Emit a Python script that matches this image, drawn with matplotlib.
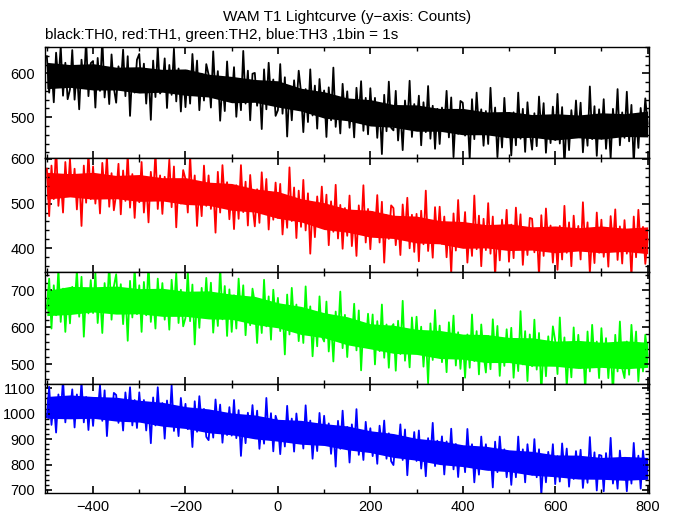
import numpy as np
import matplotlib
matplotlib.use('Agg')
import matplotlib.pyplot as plt
from matplotlib.ticker import MultipleLocator

plt.rcParams['font.family'] = ['Liberation Sans', 'DejaVu Sans']

# time bins (s), sampled every 5 s from the 1 s lightcurve
time = np.arange(-500, 801, 5)
knots = np.arange(-500, 801, 50)

th0 = [639, 556, 617, 534, 647, 579, 662, 549, 624, 541,
       563, 653, 540, 608, 518, 631, 570, 676, 548, 623,
       628, 522, 635, 560, 680, 545, 605, 530, 643, 567,
       533, 616, 571, 654, 548, 639, 503, 609, 556, 631,
       644, 561, 622, 531, 607, 494, 629, 546, 659, 554,
       566, 634, 521, 619, 551, 656, 536, 611, 513, 604,
       523, 606, 531, 644, 561, 629, 516, 599, 538, 621,
       597, 522, 650, 544, 605, 492, 582, 514, 627, 537,
       538, 614, 501, 576, 516, 651, 531, 606, 493, 599,
       601, 526, 579, 473, 609, 518, 624, 541, 586, 503,
       516, 621, 508, 591, 456, 569, 493, 584, 523, 606,
       557, 466, 564, 489, 609, 504, 572, 474, 587, 519,
       561, 455, 568, 493, 613, 478, 538, 463, 576, 500,
       559, 476, 537, 454, 567, 499, 582, 469, 544, 461,
       566, 483, 544, 453, 529, 416, 551, 468, 581, 476,
       470, 560, 447, 515, 425, 538, 477, 583, 455, 530,
       481, 549, 436, 534, 466, 571, 451, 526, 428, 519,
       439, 522, 477, 560, 454, 545, 409, 515, 462, 537,
       533, 458, 511, 405, 541, 450, 556, 473, 518, 435,
       514, 439, 567, 461, 522, 409, 499, 431, 544, 454,
       504, 413, 511, 436, 556, 451, 519, 421, 534, 466,
       426, 509, 434, 547, 464, 532, 419, 502, 441, 524,
       448, 553, 440, 523, 388, 501, 425, 516, 455, 538,
       457, 533, 420, 495, 435, 570, 450, 525, 412, 518,
       451, 541, 428, 496, 406, 519, 458, 564, 436, 511,
       453, 558, 445, 528, 393, 506, 430, 521, 460, 543,
       485]

th1 = [578, 472, 585, 510, 630, 495, 555, 480, 593, 517,
       600, 517, 578, 487, 563, 450, 585, 502, 615, 510,
       583, 500, 561, 478, 591, 523, 606, 493, 568, 485,
       521, 589, 476, 574, 506, 611, 491, 566, 468, 559,
       503, 593, 480, 548, 458, 571, 510, 616, 488, 563,
       477, 560, 515, 598, 492, 583, 447, 553, 500, 575,
       555, 480, 608, 502, 563, 450, 540, 472, 585, 495,
       563, 488, 541, 435, 571, 480, 586, 503, 548, 465,
       534, 443, 541, 466, 586, 481, 549, 451, 564, 496,
       449, 532, 457, 570, 487, 555, 442, 525, 464, 547,
       468, 544, 431, 506, 446, 581, 461, 536, 423, 529,
       448, 553, 440, 523, 388, 501, 425, 516, 455, 538,
       452, 520, 407, 505, 437, 542, 422, 497, 399, 490,
       428, 518, 405, 473, 383, 496, 435, 541, 413, 488,
       398, 481, 436, 519, 413, 504, 368, 474, 421, 496,
       490, 407, 468, 385, 498, 430, 513, 400, 475, 392,
       477, 371, 484, 409, 529, 394, 454, 379, 492, 416,
       493, 410, 471, 380, 456, 343, 478, 395, 508, 403,
       405, 481, 368, 443, 383, 518, 398, 473, 360, 466,
       396, 501, 388, 471, 336, 449, 373, 464, 403, 486,
       370, 453, 378, 491, 408, 476, 363, 446, 385, 468,
       466, 391, 444, 338, 474, 383, 489, 406, 451, 368,
       443, 352, 450, 375, 495, 390, 458, 360, 473, 405,
       450, 375, 503, 397, 458, 345, 435, 367, 480, 390,
       464, 381, 442, 359, 472, 404, 487, 374, 449, 366,
       463, 388, 441, 335, 471, 380, 486, 403, 448, 365,
       420]

th2 = [650, 731, 596, 713, 632, 758, 614, 704, 587, 695,
       610, 709, 655, 754, 628, 736, 574, 700, 637, 727,
       638, 746, 611, 692, 584, 719, 647, 773, 620, 710,
       743, 644, 716, 608, 698, 563, 725, 626, 761, 635,
       713, 587, 722, 632, 776, 614, 686, 596, 731, 641,
       719, 620, 692, 593, 728, 647, 746, 611, 701, 602,
       625, 751, 616, 715, 553, 688, 598, 706, 634, 733,
       630, 720, 585, 675, 603, 765, 621, 711, 576, 702,
       587, 686, 596, 731, 632, 713, 578, 677, 605, 704,
       665, 557, 674, 584, 728, 602, 683, 566, 701, 620,
       679, 589, 652, 526, 688, 580, 706, 607, 661, 562,
       647, 557, 710, 584, 656, 521, 629, 548, 683, 575,
       561, 669, 534, 615, 507, 642, 570, 696, 543, 633,
       519, 618, 564, 663, 537, 645, 483, 609, 546, 636,
       553, 634, 499, 616, 535, 661, 517, 607, 490, 598,
       608, 482, 617, 527, 671, 509, 581, 491, 626, 536,
       628, 529, 601, 493, 583, 448, 610, 511, 646, 520,
       604, 505, 577, 478, 613, 532, 631, 496, 586, 487,
       571, 463, 580, 490, 634, 508, 589, 472, 607, 526,
       477, 576, 486, 621, 522, 603, 468, 567, 495, 594,
       508, 598, 463, 553, 481, 643, 499, 589, 454, 580,
       494, 620, 485, 584, 422, 557, 467, 575, 503, 602,
       563, 473, 626, 500, 572, 437, 545, 464, 599, 491,
       579, 489, 552, 426, 588, 480, 606, 507, 561, 462,
       597, 498, 570, 462, 552, 417, 579, 480, 615, 489,
       462, 561, 471, 606, 507, 588, 453, 552, 480, 579,
       522]

th3 = [986, 1106, 956, 1046, 926, 1076, 996, 1136, 966, 1066,
       1006, 1096, 946, 1076, 986, 1126, 966, 1066, 936, 1056,
       952, 1062, 1002, 1112, 972, 1092, 912, 1052, 982, 1082,
       1074, 964, 1044, 934, 1084, 994, 1104, 954, 1054, 944,
       1084, 974, 1054, 934, 1034, 884, 1064, 954, 1104, 964,
       1042, 902, 1052, 952, 1112, 932, 1012, 912, 1062, 962,
       1039, 939, 1009, 869, 1049, 929, 1069, 959, 1019, 909,
       896, 1006, 906, 1056, 946, 1036, 886, 996, 916, 1026,
       914, 1054, 904, 1014, 834, 984, 884, 1004, 924, 1034,
       912, 1012, 862, 962, 882, 1062, 902, 1002, 852, 992,
       961, 841, 971, 871, 1031, 891, 981, 851, 1001, 911,
       963, 863, 1033, 893, 973, 823, 943, 853, 1003, 883,
       992, 882, 962, 842, 942, 792, 972, 862, 1012, 872,
       948, 808, 958, 858, 1018, 838, 918, 818, 968, 868,
       943, 833, 913, 803, 953, 863, 973, 823, 923, 813,
       798, 908, 848, 958, 818, 938, 758, 898, 828, 928,
       814, 934, 784, 874, 754, 904, 824, 964, 794, 894,
       821, 911, 761, 891, 801, 941, 781, 881, 751, 871,
       870, 770, 940, 800, 880, 730, 850, 760, 910, 790,
       880, 780, 850, 710, 890, 770, 910, 800, 860, 750,
       840, 720, 850, 750, 910, 770, 860, 730, 880, 790,
       760, 900, 750, 860, 680, 830, 730, 850, 770, 880,
       723, 833, 733, 883, 773, 863, 713, 823, 743, 853,
       758, 858, 708, 808, 728, 908, 748, 848, 698, 838,
       835, 695, 845, 745, 905, 725, 805, 705, 855, 755,
       815, 695, 825, 725, 885, 745, 835, 705, 855, 765,
       790]

# dense core of each band (upper / lower edge) at the knots
th0_hi = [625, 620, 622, 614, 615, 609, 610, 598, 593, 586, 583, 566, 558, 544,
          540, 529, 528, 520, 520, 512, 513, 506, 508, 505, 510, 508, 514]
th0_lo = [565, 568, 562, 562, 555, 557, 550, 546, 533, 534, 523, 514, 498, 492,
          480, 477, 468, 468, 460, 460, 453, 454, 448, 453, 450, 456, 455]
th1_hi = [570, 567, 570, 563, 565, 558, 558, 548, 545, 533, 527, 511, 502, 488,
          485, 474, 472, 462, 460, 453, 455, 448, 450, 446, 450, 445, 448]
th1_lo = [510, 515, 510, 511, 505, 506, 498, 496, 485, 481, 467, 459, 442, 436,
          425, 422, 412, 410, 400, 401, 395, 396, 390, 394, 390, 393, 388]
th2_hi = [699, 710, 709, 711, 704, 705, 697, 698, 689, 683, 666, 656, 639, 628,
          609, 605, 594, 591, 581, 580, 572, 571, 562, 564, 559, 563, 559]
th2_lo = [631, 634, 641, 635, 636, 629, 629, 622, 621, 607, 598, 580, 571, 552,
          541, 529, 526, 515, 513, 504, 504, 495, 494, 488, 491, 487, 491]
th3_hi = [1068, 1074, 1068, 1065, 1053, 1045, 1028, 1019, 1003, 995, 978, 974, 961, 952,
          933, 922, 903, 894, 878, 872, 858, 852, 838, 837, 828, 832, 828]
th3_lo = [982, 980, 982, 971, 967, 951, 942, 925, 917, 901, 892, 880, 875, 858,
          847, 828, 817, 800, 792, 778, 772, 758, 752, 743, 742, 738, 742]

series = [th0, th1, th2, th3]
cores = [(th0_hi, th0_lo), (th1_hi, th1_lo), (th2_hi, th2_lo), (th3_hi, th3_lo)]
colors = ['black', 'red', '#00ff00', 'blue']
ylims = [(407, 660), (347, 602), (446, 749), (688, 1117)]

# panel boxes in pixels from the top: (top, bottom)
W, H = 674, 515
boxes = [(47, 158), (158, 272), (272, 384), (384, 493)]
left, right = 45, 649

fig = plt.figure(figsize=(W / 100, H / 100), dpi=100)

for i, (top, bot) in enumerate(boxes):
    ax = fig.add_axes([left / W, 1 - bot / H, (right - left) / W, (bot - top) / H])
    hi, lo = cores[i]
    ax.fill_between(knots, lo, hi, color=colors[i], lw=0)
    ax.plot(time, series[i], color=colors[i], lw=1.3)
    ax.set_xlim(-504, 803)
    ax.set_ylim(*ylims[i])
    ax.xaxis.set_major_locator(MultipleLocator(200))
    ax.xaxis.set_minor_locator(MultipleLocator(100))
    ax.yaxis.set_major_locator(MultipleLocator(100))
    ax.yaxis.set_minor_locator(MultipleLocator(20))
    ax.tick_params(which='both', direction='in', top=True, right=True,
                   labelsize=10.5, pad=7)
    ax.tick_params(axis='x', pad=5)
    ax.tick_params(which='major', length=5, width=1.2)
    ax.tick_params(which='minor', length=3, width=1)
    for sp in ax.spines.values():
        sp.set_linewidth(1)
    if i < 3:
        ax.tick_params(labelbottom=False)

fig.text(347 / W, 1 - 17 / H, 'WAM T1 Lightcurve (y\u2212axis: Counts)',
         ha='center', va='center', fontsize=11)
fig.text(left / W, 1 - 35 / H,
         'black:TH0, red:TH1, green:TH2, blue:TH3 ,1bin = 1s',
         ha='left', va='center', fontsize=11)

fig.savefig('out.png', dpi=100)
